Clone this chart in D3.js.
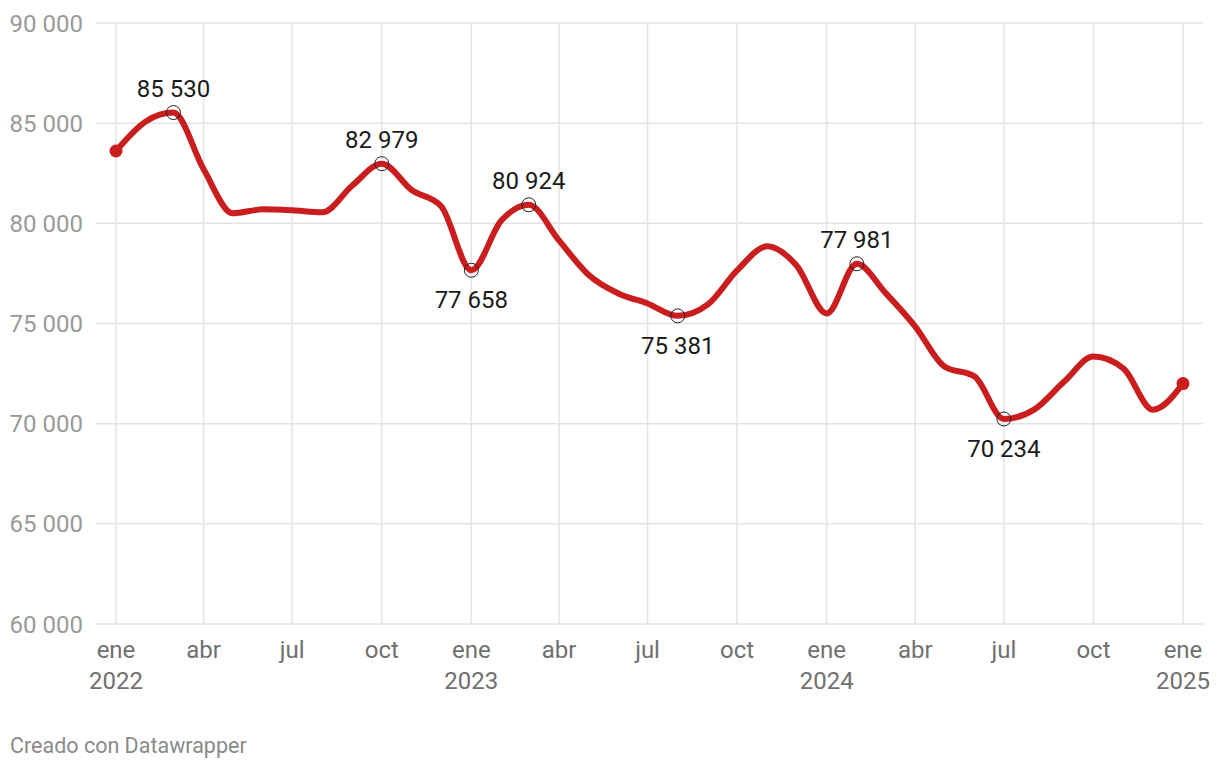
<!DOCTYPE html>
<html>
<head>
<meta charset="utf-8">
<script src="https://cdn.jsdelivr.net/npm/d3@7"></script>
<style>
  html, body { margin: 0; padding: 0; background: #fff; }
  svg { display: block; font-family: Roboto, "Noto Sans", sans-serif; }
</style>
</head>
<body>
<svg id="chart" width="1220" height="770"></svg>
<script>
const months = ["2022-01","2022-02","2022-03","2022-04","2022-05","2022-06","2022-07","2022-08","2022-09","2022-10","2022-11","2022-12",
  "2023-01","2023-02","2023-03","2023-04","2023-05","2023-06","2023-07","2023-08","2023-09","2023-10","2023-11","2023-12",
  "2024-01","2024-02","2024-03","2024-04","2024-05","2024-06","2024-07","2024-08","2024-09","2024-10","2024-11","2024-12","2025-01"];
const values = [83610, 85100, 85530, 82700, 80500, 80700, 80650, 80550, 81900, 82979, 81650, 80850,
  77658, 80150, 80924, 79150, 77450, 76500, 76000, 75381, 75950, 77650, 78850, 77900,
  75500, 77981, 76550, 74850, 72850, 72350, 70234, 70700, 72100, 73350, 72750, 70700, 72000];
const labeledMonths = ["2022-03","2022-10","2023-01","2023-03","2023-08","2024-02","2024-07"];
const labelBelow = ["2023-01","2023-08","2024-07"];
const yTicks = [60000, 65000, 70000, 75000, 80000, 85000, 90000];
const xTickMonths = ["2022-01","2022-04","2022-07","2022-10","2023-01","2023-04","2023-07","2023-10",
  "2024-01","2024-04","2024-07","2024-10","2025-01"];
const monthNames = ["ene","feb","mar","abr","may","jun","jul","ago","sep","oct","nov","dic"];
const footer = "Creado con Datawrapper";

const parse = d3.timeParse("%Y-%m");
const data = months.map((m, i) => ({ date: parse(m), value: values[i], key: m }));

const svg = d3.select("#chart");
const x = d3.scaleTime().domain([parse("2022-01"), parse("2025-01")]).range([116, 1183]);
const y = d3.scaleLinear().domain([60000, 90000]).range([624, 23]);
const fmt = v => d3.format(",")(v).replace(/,/g, " ");

const grid = svg.append("g");
grid.selectAll("line.h").data(yTicks).join("line")
  .attr("x1", 96).attr("x2", 1203)
  .attr("y1", d => y(d)).attr("y2", d => y(d))
  .attr("stroke", "#e3e3e3").attr("stroke-width", 1.5);
grid.selectAll("line.v").data(xTickMonths).join("line")
  .attr("x1", d => x(parse(d))).attr("x2", d => x(parse(d)))
  .attr("y1", y(90000)).attr("y2", y(60000))
  .attr("stroke", "#e3e3e3").attr("stroke-width", 1.5);

svg.append("g").selectAll("text").data(yTicks).join("text")
  .attr("x", 83).attr("y", d => y(d) + 8.5)
  .attr("text-anchor", "end")
  .attr("font-size", 24).attr("fill", "#9a9a9a")
  .text(d => fmt(d));

const xl = svg.append("g").selectAll("text").data(xTickMonths).join("text")
  .attr("text-anchor", "middle")
  .attr("font-size", 24).attr("fill", "#707070")
  .attr("transform", d => `translate(${x(parse(d))},658)`);
xl.append("tspan").attr("x", 0).attr("dy", 0).text(d => monthNames[parse(d).getMonth()]);
xl.filter(d => parse(d).getMonth() === 0).append("tspan").attr("x", 0).attr("dy", 31)
  .text(d => parse(d).getFullYear());

const line = d3.line().x(d => x(d.date)).y(d => y(d.value)).curve(d3.curveMonotoneX);
svg.append("path").datum(data)
  .attr("d", line).attr("fill", "none")
  .attr("stroke", "#c91d1e").attr("stroke-width", 6)
  .attr("stroke-linejoin", "round").attr("stroke-linecap", "round");

svg.append("g").selectAll("circle").data([data[0], data[data.length - 1]]).join("circle")
  .attr("cx", d => x(d.date)).attr("cy", d => y(d.value)).attr("r", 6.5)
  .attr("fill", "#c91d1e");

const lab = data.filter(d => labeledMonths.includes(d.key));
svg.append("g").selectAll("circle").data(lab).join("circle")
  .attr("cx", d => x(d.date)).attr("cy", d => y(d.value)).attr("r", 7)
  .attr("fill", "none").attr("stroke", "#222").attr("stroke-width", 1);
svg.append("g").selectAll("text").data(lab).join("text")
  .attr("x", d => x(d.date))
  .attr("y", d => labelBelow.includes(d.key) ? y(d.value) + 38 : y(d.value) - 16)
  .attr("text-anchor", "middle")
  .attr("font-size", 24).attr("fill", "#1a1a1a")
  .text(d => fmt(d.value));

svg.append("text").attr("x", 10).attr("y", 753)
  .attr("font-size", 21.5).attr("fill", "#8a8a8a").text(footer);
</script>
</body>
</html>
